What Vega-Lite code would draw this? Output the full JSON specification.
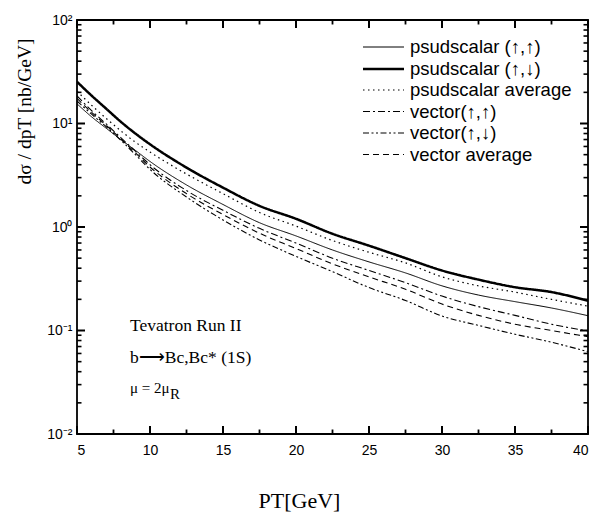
{
  "$schema": "https://vega.github.io/schema/vega-lite/v6.json",
  "width": 511,
  "height": 414,
  "autosize": {"type": "none"},
  "padding": {"left": 77, "top": 20, "right": 8, "bottom": 79},
  "background": "white",
  "datasets": {
    "curves": [
      {"pt": 5, "v": 15.5, "s": "psudscalar (↑,↑)"},
      {"pt": 6, "v": 11.6, "s": "psudscalar (↑,↑)"},
      {"pt": 7, "v": 9.0, "s": "psudscalar (↑,↑)"},
      {"pt": 8, "v": 7.0, "s": "psudscalar (↑,↑)"},
      {"pt": 9, "v": 5.5, "s": "psudscalar (↑,↑)"},
      {"pt": 10, "v": 4.3, "s": "psudscalar (↑,↑)"},
      {"pt": 12.5, "v": 2.55, "s": "psudscalar (↑,↑)"},
      {"pt": 15, "v": 1.65, "s": "psudscalar (↑,↑)"},
      {"pt": 17.5, "v": 1.1, "s": "psudscalar (↑,↑)"},
      {"pt": 20, "v": 0.82, "s": "psudscalar (↑,↑)"},
      {"pt": 22.5, "v": 0.6, "s": "psudscalar (↑,↑)"},
      {"pt": 25, "v": 0.46, "s": "psudscalar (↑,↑)"},
      {"pt": 27.5, "v": 0.36, "s": "psudscalar (↑,↑)"},
      {"pt": 30, "v": 0.27, "s": "psudscalar (↑,↑)"},
      {"pt": 32.5, "v": 0.22, "s": "psudscalar (↑,↑)"},
      {"pt": 35, "v": 0.19, "s": "psudscalar (↑,↑)"},
      {"pt": 37.5, "v": 0.165, "s": "psudscalar (↑,↑)"},
      {"pt": 40, "v": 0.139, "s": "psudscalar (↑,↑)"},

      {"pt": 5, "v": 25.3, "s": "psudscalar (↑,↓)"},
      {"pt": 6, "v": 18.6, "s": "psudscalar (↑,↓)"},
      {"pt": 7, "v": 13.9, "s": "psudscalar (↑,↓)"},
      {"pt": 8, "v": 10.4, "s": "psudscalar (↑,↓)"},
      {"pt": 9, "v": 8.0, "s": "psudscalar (↑,↓)"},
      {"pt": 10, "v": 6.3, "s": "psudscalar (↑,↓)"},
      {"pt": 12.5, "v": 3.75, "s": "psudscalar (↑,↓)"},
      {"pt": 15, "v": 2.4, "s": "psudscalar (↑,↓)"},
      {"pt": 17.5, "v": 1.6, "s": "psudscalar (↑,↓)"},
      {"pt": 20, "v": 1.2, "s": "psudscalar (↑,↓)"},
      {"pt": 22.5, "v": 0.86, "s": "psudscalar (↑,↓)"},
      {"pt": 25, "v": 0.66, "s": "psudscalar (↑,↓)"},
      {"pt": 27.5, "v": 0.5, "s": "psudscalar (↑,↓)"},
      {"pt": 30, "v": 0.38, "s": "psudscalar (↑,↓)"},
      {"pt": 32.5, "v": 0.31, "s": "psudscalar (↑,↓)"},
      {"pt": 35, "v": 0.262, "s": "psudscalar (↑,↓)"},
      {"pt": 37.5, "v": 0.235, "s": "psudscalar (↑,↓)"},
      {"pt": 40, "v": 0.194, "s": "psudscalar (↑,↓)"},

      {"pt": 5, "v": 20.5, "s": "psudscalar average"},
      {"pt": 6, "v": 15.0, "s": "psudscalar average"},
      {"pt": 7, "v": 11.2, "s": "psudscalar average"},
      {"pt": 8, "v": 8.5, "s": "psudscalar average"},
      {"pt": 9, "v": 6.6, "s": "psudscalar average"},
      {"pt": 10, "v": 5.3, "s": "psudscalar average"},
      {"pt": 12.5, "v": 3.25, "s": "psudscalar average"},
      {"pt": 15, "v": 2.1, "s": "psudscalar average"},
      {"pt": 17.5, "v": 1.38, "s": "psudscalar average"},
      {"pt": 20, "v": 1.02, "s": "psudscalar average"},
      {"pt": 22.5, "v": 0.74, "s": "psudscalar average"},
      {"pt": 25, "v": 0.57, "s": "psudscalar average"},
      {"pt": 27.5, "v": 0.45, "s": "psudscalar average"},
      {"pt": 30, "v": 0.33, "s": "psudscalar average"},
      {"pt": 32.5, "v": 0.27, "s": "psudscalar average"},
      {"pt": 35, "v": 0.235, "s": "psudscalar average"},
      {"pt": 37.5, "v": 0.2, "s": "psudscalar average"},
      {"pt": 40, "v": 0.172, "s": "psudscalar average"},

      {"pt": 5, "v": 18.5, "s": "vector(↑,↑)"},
      {"pt": 6, "v": 13.3, "s": "vector(↑,↑)"},
      {"pt": 7, "v": 9.9, "s": "vector(↑,↑)"},
      {"pt": 8, "v": 7.3, "s": "vector(↑,↑)"},
      {"pt": 9, "v": 5.4, "s": "vector(↑,↑)"},
      {"pt": 10, "v": 4.0, "s": "vector(↑,↑)"},
      {"pt": 12.5, "v": 2.25, "s": "vector(↑,↑)"},
      {"pt": 15, "v": 1.45, "s": "vector(↑,↑)"},
      {"pt": 17.5, "v": 0.97, "s": "vector(↑,↑)"},
      {"pt": 20, "v": 0.7, "s": "vector(↑,↑)"},
      {"pt": 22.5, "v": 0.5, "s": "vector(↑,↑)"},
      {"pt": 25, "v": 0.38, "s": "vector(↑,↑)"},
      {"pt": 27.5, "v": 0.29, "s": "vector(↑,↑)"},
      {"pt": 30, "v": 0.215, "s": "vector(↑,↑)"},
      {"pt": 32.5, "v": 0.17, "s": "vector(↑,↑)"},
      {"pt": 35, "v": 0.14, "s": "vector(↑,↑)"},
      {"pt": 37.5, "v": 0.115, "s": "vector(↑,↑)"},
      {"pt": 40, "v": 0.099, "s": "vector(↑,↑)"},

      {"pt": 5, "v": 16.5, "s": "vector(↑,↓)"},
      {"pt": 6, "v": 12.3, "s": "vector(↑,↓)"},
      {"pt": 7, "v": 9.3, "s": "vector(↑,↓)"},
      {"pt": 8, "v": 6.9, "s": "vector(↑,↓)"},
      {"pt": 9, "v": 5.0, "s": "vector(↑,↓)"},
      {"pt": 10, "v": 3.6, "s": "vector(↑,↓)"},
      {"pt": 12.5, "v": 1.95, "s": "vector(↑,↓)"},
      {"pt": 15, "v": 1.17, "s": "vector(↑,↓)"},
      {"pt": 17.5, "v": 0.75, "s": "vector(↑,↓)"},
      {"pt": 20, "v": 0.52, "s": "vector(↑,↓)"},
      {"pt": 22.5, "v": 0.37, "s": "vector(↑,↓)"},
      {"pt": 25, "v": 0.26, "s": "vector(↑,↓)"},
      {"pt": 27.5, "v": 0.195, "s": "vector(↑,↓)"},
      {"pt": 30, "v": 0.138, "s": "vector(↑,↓)"},
      {"pt": 32.5, "v": 0.112, "s": "vector(↑,↓)"},
      {"pt": 35, "v": 0.092, "s": "vector(↑,↓)"},
      {"pt": 37.5, "v": 0.077, "s": "vector(↑,↓)"},
      {"pt": 40, "v": 0.0624, "s": "vector(↑,↓)"},

      {"pt": 5, "v": 17.5, "s": "vector average"},
      {"pt": 6, "v": 12.8, "s": "vector average"},
      {"pt": 7, "v": 9.6, "s": "vector average"},
      {"pt": 8, "v": 7.1, "s": "vector average"},
      {"pt": 9, "v": 5.2, "s": "vector average"},
      {"pt": 10, "v": 3.8, "s": "vector average"},
      {"pt": 12.5, "v": 2.1, "s": "vector average"},
      {"pt": 15, "v": 1.32, "s": "vector average"},
      {"pt": 17.5, "v": 0.87, "s": "vector average"},
      {"pt": 20, "v": 0.62, "s": "vector average"},
      {"pt": 22.5, "v": 0.44, "s": "vector average"},
      {"pt": 25, "v": 0.33, "s": "vector average"},
      {"pt": 27.5, "v": 0.25, "s": "vector average"},
      {"pt": 30, "v": 0.18, "s": "vector average"},
      {"pt": 32.5, "v": 0.14, "s": "vector average"},
      {"pt": 35, "v": 0.115, "s": "vector average"},
      {"pt": 37.5, "v": 0.1, "s": "vector average"},
      {"pt": 40, "v": 0.087, "s": "vector average"}
    ],
    "notes": [
      {"pt": 8.63, "v": 0.110, "t": "Tevatron Run II", "g": "a"},
      {"pt": 8.63, "v": 0.0542, "t": "b⟶Bc,Bc* (1S)", "g": "a"},
      {"pt": 8.63, "v": 0.0278, "t": "μ = 2μ", "g": "b"},
      {"pt": 11.37, "v": 0.0243, "t": "R", "g": "b"}
    ],
    "xticks": [
      {"pt": 5, "k": "major"}, {"pt": 10, "k": "major"}, {"pt": 15, "k": "major"}, {"pt": 20, "k": "major"},
      {"pt": 25, "k": "major"}, {"pt": 30, "k": "major"}, {"pt": 35, "k": "major"}, {"pt": 40, "k": "major"},
      {"pt": 7.5, "k": "minor"}, {"pt": 12.5, "k": "minor"}, {"pt": 17.5, "k": "minor"}, {"pt": 22.5, "k": "minor"},
      {"pt": 27.5, "k": "minor"}, {"pt": 32.5, "k": "minor"}, {"pt": 37.5, "k": "minor"}
    ],
    "yticks": [
      {"v": 0.01, "k": "major"}, {"v": 0.1, "k": "major"}, {"v": 1, "k": "major"}, {"v": 10, "k": "major"}, {"v": 100, "k": "major"},
      {"v": 0.02, "k": "minor"}, {"v": 0.03, "k": "minor"}, {"v": 0.04, "k": "minor"}, {"v": 0.05, "k": "minor"},
      {"v": 0.06, "k": "minor"}, {"v": 0.07, "k": "minor"}, {"v": 0.08, "k": "minor"}, {"v": 0.09, "k": "minor"},
      {"v": 0.2, "k": "minor"}, {"v": 0.3, "k": "minor"}, {"v": 0.4, "k": "minor"}, {"v": 0.5, "k": "minor"},
      {"v": 0.6, "k": "minor"}, {"v": 0.7, "k": "minor"}, {"v": 0.8, "k": "minor"}, {"v": 0.9, "k": "minor"},
      {"v": 2, "k": "minor"}, {"v": 3, "k": "minor"}, {"v": 4, "k": "minor"}, {"v": 5, "k": "minor"},
      {"v": 6, "k": "minor"}, {"v": 7, "k": "minor"}, {"v": 8, "k": "minor"}, {"v": 9, "k": "minor"},
      {"v": 20, "k": "minor"}, {"v": 30, "k": "minor"}, {"v": 40, "k": "minor"}, {"v": 50, "k": "minor"},
      {"v": 60, "k": "minor"}, {"v": 70, "k": "minor"}, {"v": 80, "k": "minor"}, {"v": 90, "k": "minor"}
    ]
  },
  "layer": [
    {
      "data": {"name": "curves"},
      "mark": {"type": "line", "color": "black", "interpolate": "monotone", "clip": true},
      "encoding": {
        "x": {
          "field": "pt", "type": "quantitative",
          "scale": {"domain": [5, 40], "nice": false, "zero": false},
          "axis": {
            "orient": "bottom", "values": [5, 10, 15, 20, 25, 30, 35, 40],
            "ticks": false, "labelPadding": 9, "domain": false,
            "title": "PT[GeV]", "titleX": 222, "titleY": 66, "titleAngle": 0,
            "titleAlign": "center", "titleBaseline": "middle",
            "titleFont": "Liberation Serif", "titleFontSize": 22, "titleFontWeight": "normal"
          }
        },
        "y": {
          "field": "v", "type": "quantitative",
          "scale": {"type": "log", "domain": [0.01, 100], "nice": false},
          "axis": {
            "orient": "left", "values": [0.01, 0.1, 1, 10, 100],
            "ticks": false, "labelPadding": 5, "domain": false,
            "labelExpr": "datum.value >= 50 ? '10²' : datum.value >= 5 ? '10¹' : datum.value >= 0.5 ? '10⁰' : datum.value >= 0.05 ? '10⁻¹' : '10⁻²'",
            "title": "dσ / dpT [nb/GeV]", "titleX": -53, "titleY": 91, "titleAngle": -90,
            "titleAlign": "center", "titleBaseline": "middle",
            "titleFont": "Liberation Serif", "titleFontSize": 19.5, "titleFontWeight": "normal"
          }
        },
        "strokeDash": {
          "field": "s", "type": "nominal",
          "scale": {
            "domain": ["psudscalar (↑,↑)", "psudscalar (↑,↓)", "psudscalar average", "vector(↑,↑)", "vector(↑,↓)", "vector average"],
            "range": [[1, 0], [1, 0], [1.5, 3.5], [7, 3, 2, 3], [6, 2.5, 2, 2.5, 2, 2.5], [6, 4]]
          },
          "legend": {"title": null}
        },
        "strokeWidth": {
          "field": "s", "type": "nominal",
          "scale": {
            "type": "ordinal",
            "domain": ["psudscalar (↑,↑)", "psudscalar (↑,↓)", "psudscalar average", "vector(↑,↑)", "vector(↑,↓)", "vector average"],
            "range": [1, 2.5, 1.2, 1.1, 1.1, 1.1]
          },
          "legend": {"title": null}
        }
      }
    },
    {
      "data": {"name": "notes"},
      "transform": [{"filter": "datum.g == 'a'"}],
      "mark": {"type": "text", "align": "left", "baseline": "middle", "font": "Liberation Serif", "fontSize": 17.5, "color": "black"},
      "encoding": {
        "x": {"field": "pt", "type": "quantitative"},
        "y": {"field": "v", "type": "quantitative"},
        "text": {"field": "t"}
      }
    },
    {
      "data": {"name": "notes"},
      "transform": [{"filter": "datum.g == 'b'"}],
      "mark": {"type": "text", "align": "left", "baseline": "middle", "font": "Liberation Serif", "fontSize": 15, "color": "black"},
      "encoding": {
        "x": {"field": "pt", "type": "quantitative"},
        "y": {"field": "v", "type": "quantitative"},
        "text": {"field": "t"}
      }
    },
    {
      "data": {"name": "xticks"},
      "transform": [{"filter": "datum.k == 'major'"}],
      "mark": {"type": "rule", "color": "black", "strokeWidth": 2},
      "encoding": {"x": {"field": "pt", "type": "quantitative"}, "y": {"datum": 0.01}, "y2": {"datum": 0.01195}}
    },
    {
      "data": {"name": "xticks"},
      "transform": [{"filter": "datum.k == 'minor'"}],
      "mark": {"type": "rule", "color": "black", "strokeWidth": 1.8},
      "encoding": {"x": {"field": "pt", "type": "quantitative"}, "y": {"datum": 0.01}, "y2": {"datum": 0.01105}}
    },
    {
      "data": {"name": "xticks"},
      "transform": [{"filter": "datum.k == 'major'"}],
      "mark": {"type": "rule", "color": "black", "strokeWidth": 2},
      "encoding": {"x": {"field": "pt", "type": "quantitative"}, "y": {"datum": 100}, "y2": {"datum": 83.7}}
    },
    {
      "data": {"name": "xticks"},
      "transform": [{"filter": "datum.k == 'minor'"}],
      "mark": {"type": "rule", "color": "black", "strokeWidth": 1.8},
      "encoding": {"x": {"field": "pt", "type": "quantitative"}, "y": {"datum": 100}, "y2": {"datum": 90.5}}
    },
    {
      "data": {"name": "yticks"},
      "transform": [{"filter": "datum.k == 'major'"}],
      "mark": {"type": "rule", "color": "black", "strokeWidth": 2},
      "encoding": {"y": {"field": "v", "type": "quantitative"}, "x": {"datum": 5}, "x2": {"datum": 5.548}}
    },
    {
      "data": {"name": "yticks"},
      "transform": [{"filter": "datum.k == 'minor'"}],
      "mark": {"type": "rule", "color": "black", "strokeWidth": 1.6},
      "encoding": {"y": {"field": "v", "type": "quantitative"}, "x": {"datum": 5}, "x2": {"datum": 5.308}}
    },
    {
      "data": {"name": "yticks"},
      "transform": [{"filter": "datum.k == 'major'"}],
      "mark": {"type": "rule", "color": "black", "strokeWidth": 2},
      "encoding": {"y": {"field": "v", "type": "quantitative"}, "x": {"datum": 40}, "x2": {"datum": 39.452}}
    },
    {
      "data": {"name": "yticks"},
      "transform": [{"filter": "datum.k == 'minor'"}],
      "mark": {"type": "rule", "color": "black", "strokeWidth": 1.6},
      "encoding": {"y": {"field": "v", "type": "quantitative"}, "x": {"datum": 40}, "x2": {"datum": 39.692}}
    }
  ],
  "config": {
    "view": {"stroke": "black", "strokeWidth": 1.8},
    "axis": {
      "grid": false,
      "labelFont": "Liberation Sans", "labelFontSize": 14, "labelColor": "black",
      "titleColor": "black"
    },
    "legend": {
      "orient": "top-right", "offset": 16, "padding": 0,
      "labelFont": "Liberation Sans", "labelFontSize": 18.5, "labelColor": "black", "labelOffset": 15, "labelLimit": 300,
      "symbolType": "M-2,0L2,0", "symbolSize": 420, "symbolStrokeColor": "black",
      "rowPadding": 0.5
    }
  }
}
